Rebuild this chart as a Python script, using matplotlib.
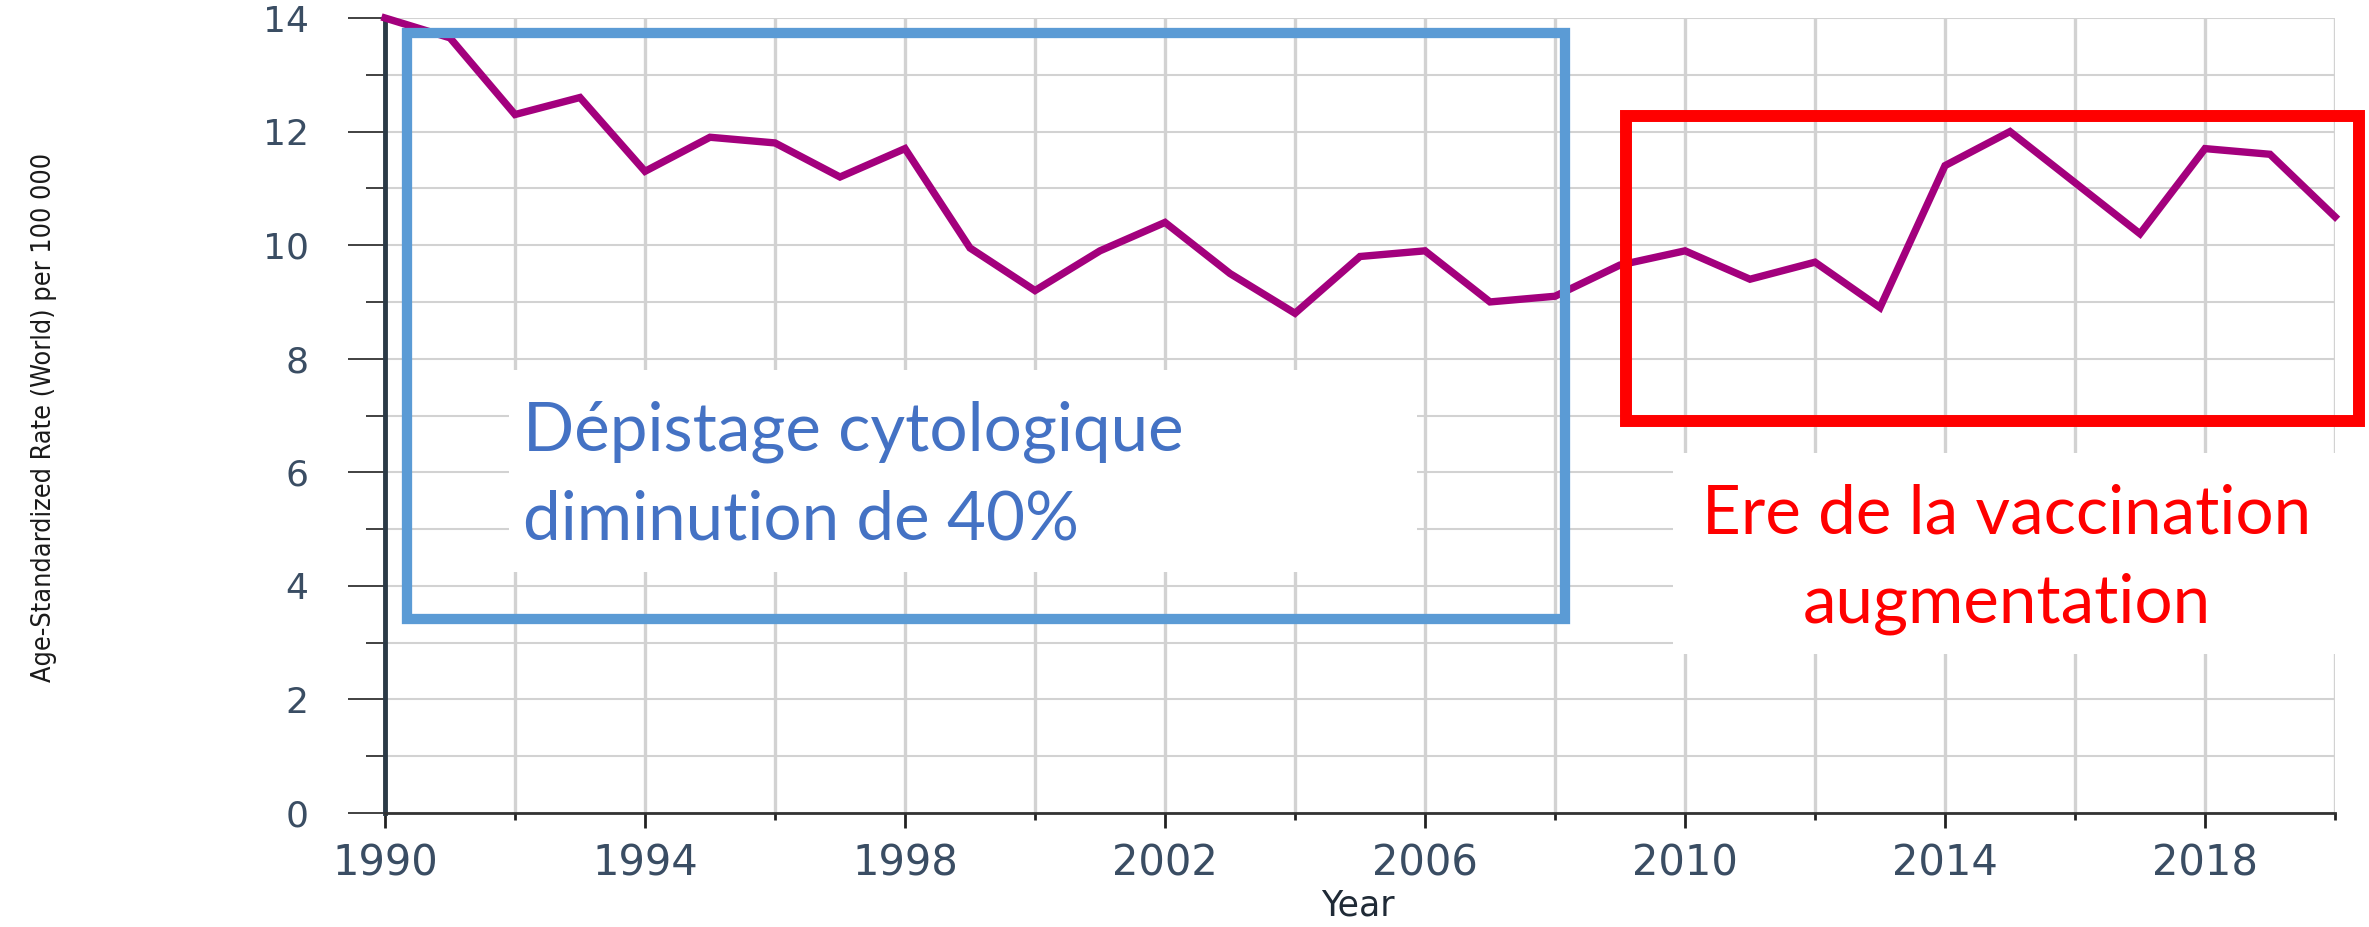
import matplotlib
matplotlib.use('Agg')
import matplotlib.pyplot as plt
from matplotlib.patches import Rectangle
from matplotlib.ticker import FixedLocator, MultipleLocator
from matplotlib import font_manager

# Data
years = [1990, 1991, 1992, 1993, 1994, 1995, 1996, 1997, 1998, 1999, 2000,
         2001, 2002, 2003, 2004, 2005, 2006, 2007, 2008, 2009, 2010,
         2011, 2012, 2013, 2014, 2015, 2016, 2017, 2018, 2019, 2020]
rates = [14.0, 13.65, 12.3, 12.6, 11.3, 11.9, 11.8, 11.2, 11.7, 9.95, 9.2,
         9.9, 10.4, 9.5, 8.8, 9.8, 9.9, 9.0, 9.1, 9.65, 9.9,
         9.4, 9.7, 8.9, 11.4, 12.0, 11.1, 10.2, 11.7, 11.6, 10.5]
year_ticks = [1990, 1994, 1998, 2002, 2006, 2010, 2014, 2018]
year_minor = [1990, 1992, 1994, 1996, 1998, 2000, 2002, 2004, 2006, 2008,
              2010, 2012, 2014, 2016, 2018, 2020]
rate_ticks = [0, 2, 4, 6, 8, 10, 12, 14]

Y_LABEL = 'Age-Standardized Rate (World) per 100 000'
X_LABEL = 'Year'
BLUE_TEXT = ['Dépistage cytologique', 'diminution de 40%']
RED_TEXT = ['Ere de la vaccination', 'augmentation']

# Styling
LINE_COLOR = '#a3007d'
BLUE_BOX = '#5b9bd5'
BLUE_FONT = '#4472c4'
RED = '#ff0000'
TICK_COLOR = '#3a4d63'
GRID_COLOR = '#d2d2d2'

W, H, DPI = 2369, 927, 100
YLABEL_LEN = 530  # pixels the rotated label should span

names = {f.name for f in font_manager.fontManager.ttflist}
if 'Liberation Sans Narrow' in names:
    ylab_family = ['Liberation Sans Narrow', 'DejaVu Sans']
else:
    ylab_family = ['DejaVu Sans']
note_family = ['Lato', 'DejaVu Sans']


def px(x0, y0, x1, y1):
    """axes rect from pixel box (left, top, right, bottom)"""
    return [x0 / W, 1 - y1 / H, (x1 - x0) / W, (y1 - y0) / H]


fig = plt.figure(figsize=(W / DPI, H / DPI), dpi=DPI, facecolor='white')
ax = fig.add_axes(px(385, 18, 2335, 813))

ax.set_xlim(years[0], years[-1])
ax.set_ylim(0, 14)

ax.xaxis.set_major_locator(FixedLocator(year_ticks))
ax.xaxis.set_minor_locator(FixedLocator(year_minor))
ax.yaxis.set_major_locator(FixedLocator(rate_ticks))
ax.yaxis.set_minor_locator(MultipleLocator(1))

ax.set_axisbelow(True)
ax.grid(True, which='both', axis='x', color=GRID_COLOR, lw=2.4)
ax.grid(True, which='both', axis='y', color=GRID_COLOR, lw=1.5)

for side in ['top', 'right']:
    ax.spines[side].set_visible(False)
ax.spines['left'].set_color('#2b3a46')
ax.spines['left'].set_linewidth(3.5)
ax.spines['bottom'].set_color('#333333')
ax.spines['bottom'].set_linewidth(2)

ax.tick_params(axis='y', which='major', length=27, width=1.3, color='#333333',
               pad=28, labelsize=26, labelcolor=TICK_COLOR)
ax.tick_params(axis='y', which='minor', length=14, width=1.3, color='#333333')
ax.tick_params(axis='x', which='major', length=11, width=2, color='#222222',
               pad=10, labelsize=30, labelcolor=TICK_COLOR)
ax.tick_params(axis='x', which='minor', length=5, width=2, color='#222222')
for lab in ax.get_xticklabels() + ax.get_yticklabels():
    lab.set_family('DejaVu Sans')

ax.plot(years, rates, color=LINE_COLOR, lw=5.3, solid_joinstyle='miter', zorder=4,
        clip_on=False)

# white backgrounds behind the annotation texts (they hide the grid)
ax.add_patch(Rectangle((1991.91, 4.24), 2005.87 - 1991.91, 7.80 - 4.24,
                       facecolor='white', edgecolor='none', zorder=1))
ax.add_patch(Rectangle((2009.81, 2.80), 2021.0 - 2009.81, 6.34 - 2.80,
                       facecolor='white', edgecolor='none', zorder=1, clip_on=False))

# highlight frames
ax.add_patch(Rectangle((1990.34, 3.42), 2008.16 - 1990.34, 13.74 - 3.42,
                       fill=False, edgecolor=BLUE_BOX, lw=7.4, zorder=5,
                       joinstyle='miter', clip_on=False))
ax.add_patch(Rectangle((2009.09, 6.90), 2020.37 - 2009.09, 12.27 - 6.90,
                       fill=False, edgecolor=RED, lw=8.6, zorder=5,
                       joinstyle='miter', clip_on=False))

ax.text(1992.13, 6.39, BLUE_TEXT[0], color=BLUE_FONT, fontsize=48.5,
        family=note_family, va='baseline', ha='left', zorder=6)
ax.text(1992.13, 4.81, BLUE_TEXT[1], color=BLUE_FONT, fontsize=48.5,
        family=note_family, va='baseline', ha='left', zorder=6)
ax.text(2014.95, 4.93, RED_TEXT[0], color=RED, fontsize=48.5,
        family=note_family, va='baseline', ha='center', zorder=6, clip_on=False)
ax.text(2014.95, 3.36, RED_TEXT[1], color=RED, fontsize=48.5,
        family=note_family, va='baseline', ha='center', zorder=6, clip_on=False)

ylab = fig.text(44 / W, 1 - 417 / H, Y_LABEL, rotation=90, ha='center', va='center',
                family=ylab_family, fontstretch='condensed', fontsize=20,
                color='#1a1a1a')
# scale the label so it spans the same height as in the original
fig.canvas.draw()
span = ylab.get_window_extent().height
ylab.set_fontsize(20 * YLABEL_LEN / span)

fig.text(1358 / W, 1 - 923 / H, X_LABEL, ha='center', va='bottom',
         family='DejaVu Sans', fontsize=25, color='#1f2a36')

fig.savefig('out.png', dpi=DPI, facecolor='white')
